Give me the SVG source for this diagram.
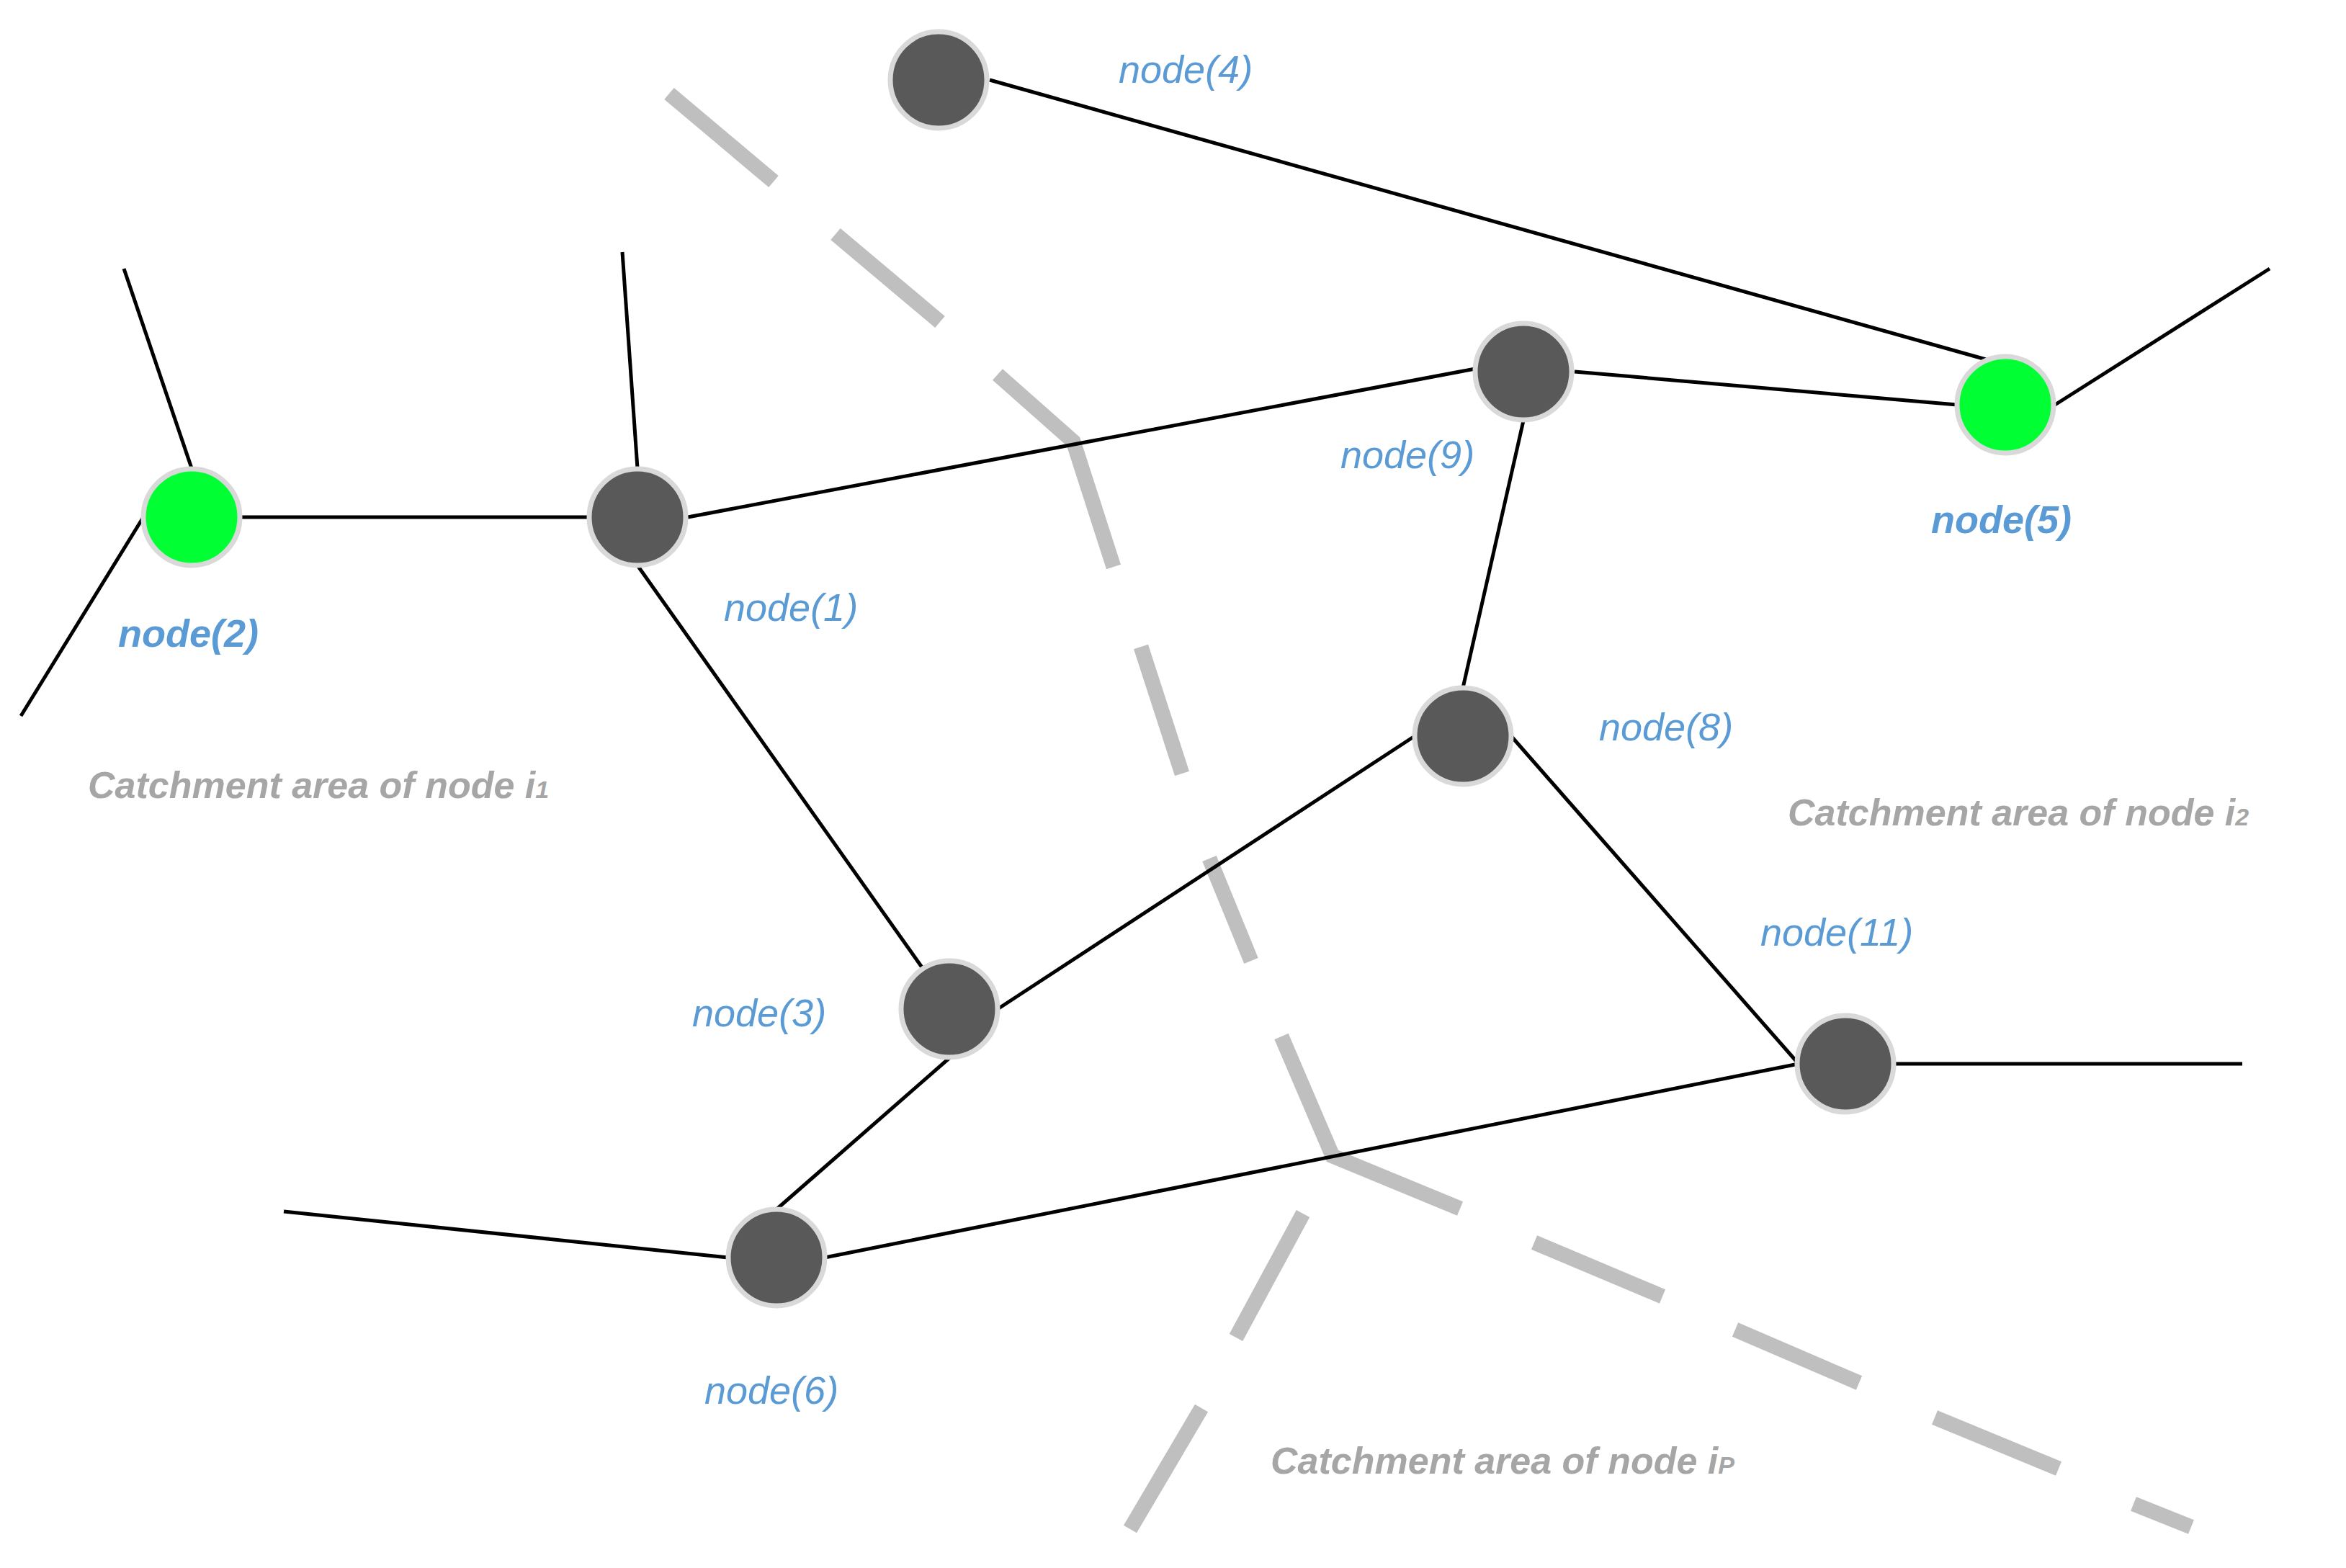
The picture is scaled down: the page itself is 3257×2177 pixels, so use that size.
<svg xmlns="http://www.w3.org/2000/svg" width="3257" height="2177" viewBox="0 0 3257 2177">
<style>
.e{stroke:#000;stroke-width:5;fill:none}
.d{stroke:#BFBFBF;stroke-width:21;stroke-linecap:butt;fill:none}
.n{fill:#595959;stroke:#D9D9D9;stroke-width:7}
.g{fill:#00FF33;stroke:#D9D9D9;stroke-width:7}
.l{font-family:"Liberation Sans",Arial,sans-serif;font-style:italic;font-size:54px;fill:#5B9BD5}
.b{font-weight:bold}
.c{font-family:"Liberation Sans",Arial,sans-serif;font-style:italic;font-weight:bold;font-size:52px;fill:#A6A6A6}
</style>
<rect width="3257" height="2177" fill="#fff"/>
<g id="areas">
<path class="d" d="M929,130L1074,252M1160,325L1305,447M1385,520L1490,613L1546,787M1584,898L1641,1074M1679,1192L1737,1334M1779,1439L1850,1605L2027,1678M2130,1725L2308,1800M2409,1846L2581,1920M2686,1968L2858,2039M2962,2088L3042,2120M1809,1685L1716,1857M1668,1955L1569,2123"/>
</g>
<g id="connectors">
<line class="e" x1="1374" y1="111" x2="2757" y2="499"/>
<line class="e" x1="172" y1="373" x2="266" y2="650"/>
<line class="e" x1="199" y1="718" x2="29" y2="994"/>
<line class="e" x1="336" y1="718" x2="818" y2="718"/>
<line class="e" x1="864" y1="350" x2="885" y2="650"/>
<line class="e" x1="955" y1="718" x2="2048" y2="512"/>
<line class="e" x1="2186" y1="516" x2="2717" y2="562"/>
<line class="e" x1="2853" y1="562" x2="3151" y2="373"/>
<line class="e" x1="2115" y1="584" x2="2031" y2="955"/>
<line class="e" x1="885" y1="785" x2="1280" y2="1343"/>
<line class="e" x1="1385" y1="1401" x2="1964" y2="1022"/>
<line class="e" x1="2098" y1="1022" x2="2497" y2="1477"/>
<line class="e" x1="2631" y1="1477" x2="3113" y2="1477"/>
<line class="e" x1="1318" y1="1469" x2="1078" y2="1679"/>
<line class="e" x1="1145" y1="1746" x2="2497" y2="1477"/>
<line class="e" x1="394" y1="1682" x2="1011" y2="1746"/>
</g>
<g id="node4"><circle class="n" cx="1303" cy="111" r="67"/><text class="l" x="1553" y="115">node(4)</text></g>
<g id="node9"><circle class="n" cx="2115" cy="516" r="67"/><text class="l" x="1861" y="650">node(9)</text></g>
<g id="node5"><circle class="g" cx="2784" cy="562" r="67"/><text class="l b" x="2681" y="740">node(5)</text></g>
<g id="node2"><circle class="g" cx="266" cy="718" r="67"/><text class="l b" x="164" y="898">node(2)</text></g>
<g id="node1"><circle class="n" cx="885" cy="718" r="67"/><text class="l" x="1005" y="862">node(1)</text></g>
<g id="node8"><circle class="n" cx="2031" cy="1022" r="67"/><text class="l" x="2220" y="1028">node(8)</text></g>
<g id="node3"><circle class="n" cx="1318" cy="1401" r="67"/><text class="l" x="961" y="1425">node(3)</text></g>
<g id="node11"><circle class="n" cx="2562" cy="1477" r="67"/><text class="l" x="2444" y="1313">node(11)</text></g>
<g id="node6"><circle class="n" cx="1078" cy="1746" r="67"/><text class="l" x="978" y="1949">node(6)</text></g>
<g id="labels">
<text class="c" x="122" y="1108">Catchment area of node i<tspan font-size="34">1</tspan></text>
<text class="c" x="2482" y="1146">Catchment area of node i<tspan font-size="34">2</tspan></text>
<text class="c" x="1764" y="2046">Catchment area of node i<tspan font-size="34">P</tspan></text>
</g>
</svg>
